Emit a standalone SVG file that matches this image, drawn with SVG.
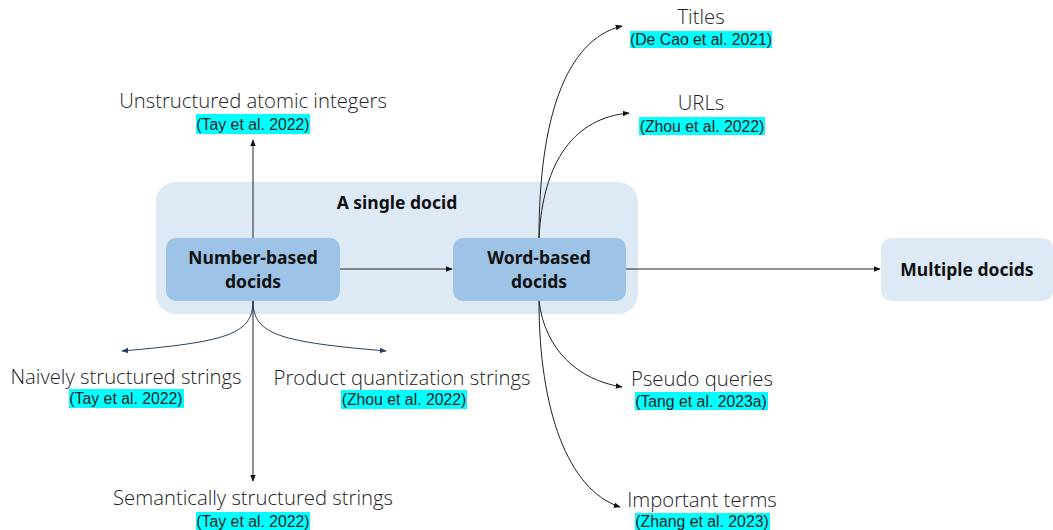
<svg xmlns="http://www.w3.org/2000/svg" width="1053" height="530" viewBox="0 0 1053 530">
<style>
.lbl{font-family:"Open Sans","Noto Sans",sans-serif;font-weight:300;font-size:20.3px;fill:#222;text-anchor:middle}
.cit{font-family:"Liberation Sans",Arial,sans-serif;font-size:15.8px;fill:#222;text-anchor:middle}
.hl{fill:#00FFFF}
.bold{font-family:"Noto Sans","Liberation Sans",sans-serif;font-weight:bold;font-size:17.5px;fill:#111;text-anchor:middle}
.edge{fill:none;stroke:#222;stroke-width:1}
.edgeb{fill:none;stroke:#2B3F5E;stroke-width:1}
</style>
<defs>
<marker id="ah" viewBox="0 0 10 10" refX="9" refY="5" markerWidth="7" markerHeight="7" orient="auto" markerUnits="userSpaceOnUse">
<path d="M0,1 L10,5 L0,9 z" fill="#111"/>
</marker>
<marker id="ahb" viewBox="0 0 10 10" refX="9" refY="5" markerWidth="7" markerHeight="7" orient="auto" markerUnits="userSpaceOnUse">
<path d="M0,1 L10,5 L0,9 z" fill="#2B3F5E"/>
</marker>
</defs>
<rect width="1053" height="530" fill="#fff"/>

<g id="single-docid">
<rect x="156" y="182" width="482" height="132" rx="20" fill="#DDE9F5"/>
<text class="bold" x="397" y="209">A single docid</text>
</g>

<g id="connectors">
<line class="edge" x1="253" y1="238" x2="253" y2="140" marker-end="url(#ah)"/>
<line class="edge" x1="340" y1="269" x2="452" y2="269" marker-end="url(#ah)"/>
<line class="edge" x1="626" y1="269" x2="880" y2="269" marker-end="url(#ah)"/>
<path class="edgeb" d="M253,301 C253,335 225,342 122,351" marker-end="url(#ahb)"/>
<path class="edgeb" d="M253,301 C253,335 281,342 386,351" marker-end="url(#ahb)"/>
<line class="edge" x1="253" y1="301" x2="253" y2="481" marker-end="url(#ah)"/>
<path class="edge" d="M539,238 C539,120 565,40 622,26" marker-end="url(#ah)"/>
<path class="edge" d="M539,238 C543,160 575,118 629,113" marker-end="url(#ah)"/>
<path class="edge" d="M539,301 C545,350 578,380 622,387" marker-end="url(#ah)"/>
<path class="edge" d="M539,301 C539,410 568,490 620,507" marker-end="url(#ah)"/>
</g>

<g id="number-based">
<rect x="166" y="238" width="174" height="63" rx="10" fill="#9DC3E6"/>
<text class="bold" x="253" y="264">Number-based</text>
<text class="bold" x="253" y="288">docids</text>
</g>

<g id="word-based">
<rect x="453" y="238" width="173" height="63" rx="10" fill="#9DC3E6"/>
<text class="bold" x="539" y="264">Word-based</text>
<text class="bold" x="539" y="288">docids</text>
</g>

<g id="multiple-docids">
<rect x="881" y="238" width="172" height="63" rx="10" fill="#DDE9F5"/>
<text class="bold" x="967" y="276">Multiple docids</text>
</g>

<g id="unstructured">
<text class="lbl" x="253" y="108">Unstructured atomic integers</text>
<rect class="hl" x="196" y="114" width="114" height="20"/>
<text class="cit" x="253" y="129.5">(Tay et al. 2022)</text>
</g>

<g id="naively">
<text class="lbl" x="126" y="384">Naively structured strings</text>
<rect class="hl" x="69" y="389" width="115" height="19"/>
<text class="cit" x="126" y="404">(Tay et al. 2022)</text>
</g>

<g id="product">
<text class="lbl" x="402" y="385">Product quantization strings</text>
<rect class="hl" x="341" y="390" width="126" height="19"/>
<text class="cit" x="404" y="405">(Zhou et al. 2022)</text>
</g>

<g id="semantic">
<text class="lbl" x="253" y="505">Semantically structured strings</text>
<rect class="hl" x="196" y="512" width="114" height="18"/>
<text class="cit" x="253" y="526.5">(Tay et al. 2022)</text>
</g>

<g id="titles">
<text class="lbl" x="701" y="24">Titles</text>
<rect class="hl" x="630" y="31" width="142" height="17"/>
<text class="cit" x="701" y="45">(De Cao et al. 2021)</text>
</g>

<g id="urls">
<text class="lbl" x="701" y="110">URLs</text>
<rect class="hl" x="639" y="117" width="126" height="18"/>
<text class="cit" x="702" y="131.5">(Zhou et al. 2022)</text>
</g>

<g id="pseudo">
<text class="lbl" x="702" y="386">Pseudo queries</text>
<rect class="hl" x="635" y="392" width="133" height="18"/>
<text class="cit" x="701" y="406.5">(Tang et al. 2023a)</text>
</g>

<g id="important">
<text class="lbl" x="702" y="507">Important terms</text>
<rect class="hl" x="635" y="513" width="135" height="17"/>
<text class="cit" x="702" y="527">(Zhang et al. 2023)</text>
</g>
</svg>
